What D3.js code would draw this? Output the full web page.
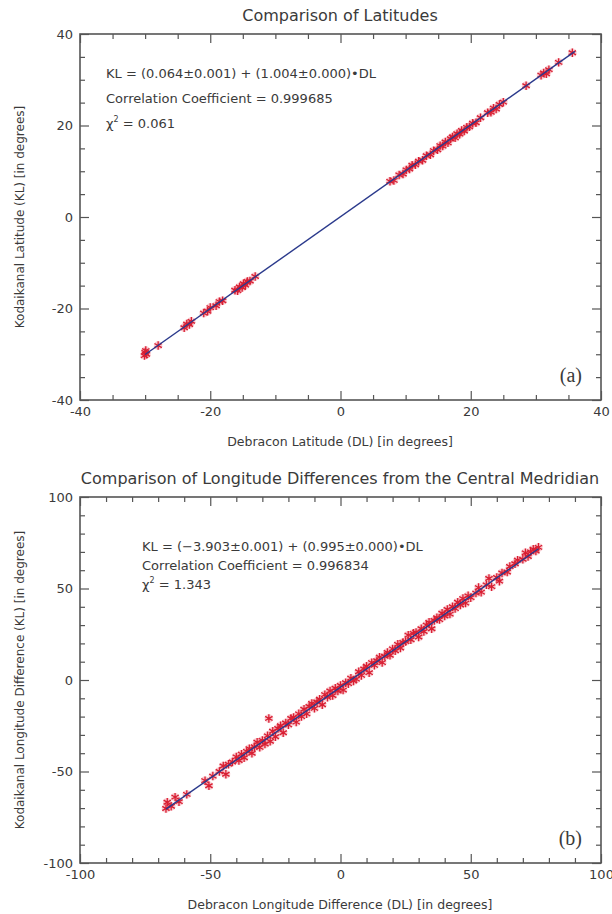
<!DOCTYPE html>
<html>
<head>
<meta charset="utf-8">
<script src="https://cdn.jsdelivr.net/npm/d3@7"></script>
<style>
  body { margin: 0; background: #fff; }
  text { font-family: "DejaVu Sans", sans-serif; fill: #3a3a3a; }
</style>
</head>
<body>
<div id="main"></div>
<script>
// panel (a) : latitudes, DL vs KL
var latDL = [-30.1,-30.0,-29.8,-29.9,-28.0,-24.0,-23.6,-23.2,-22.9,-21.0,-20.4,-20.0,-19.1,-18.6,-18.1,
  -16.2,-15.8,-15.5,-15.1,-14.9,-14.6,-14.3,-13.9,-13.1,
  7.6,8.2,9.0,9.6,10.1,10.6,11.0,11.5,12.0,12.6,13.2,13.8,14.3,14.9,15.3,15.7,16.1,16.5,16.9,17.2,17.6,
  17.9,18.3,18.6,19.0,19.4,19.8,20.3,20.8,21.5,22.6,23.1,23.5,23.9,24.4,25.0,28.5,30.8,31.2,31.6,32.0,33.5,35.6];
var latKL = [-30.3,-29.6,-30.0,-29.2,-28.1,-24.2,-23.4,-23.5,-22.8,-21.0,-20.6,-19.8,-19.4,-18.5,-18.3,
  -16.0,-16.1,-15.3,-15.4,-14.6,-14.9,-14.1,-14.0,-13.0,
  7.8,8.0,9.2,9.4,10.3,10.5,11.3,11.4,12.2,12.4,13.4,13.6,14.5,14.7,15.6,15.5,16.4,16.2,17.1,17.5,17.3,
  18.2,18.1,18.9,18.8,19.6,19.7,20.5,20.6,21.7,22.8,22.9,23.8,23.6,24.6,25.1,28.7,31.0,31.5,31.3,32.2,33.8,35.9];

// panel (b) : longitude differences from the central meridian
var lonDL = [-67,-66.5,-65,-63.5,-62,-59,-52,-50.5,-49,-46.5,-45,-44,-43,-41.5,-40,-39,-38,-37,-36,-35,
  -34,-33,-32,-31,-30,-29,-28,-27.5,-27,-26,-25,-24,-23,-22,-21,-20,-19,-18,-17,-16,-15,-14,-13,-12,
  -11,-10,-9,-8,-7,-6,-5,-4,-3,-2,-1,0,1,2,3,4,5,6,7,8,9,10,11,12,13,14,15,16,17,18,19,20,21,22,23,24,
  25,26,27,28,29,30,31,32,33,34,35,36,37,38,39,40,41,42,43,44,45,46,47,48,49,50,52,53,54,56,57,58,60,
  61,62,64,65,67,68,70,71,72,73,74,75,76];
var lonKL = [-70.2,-66.8,-69.0,-64.0,-66.5,-62.5,-55.0,-57.8,-52.5,-50.0,-47.0,-51.5,-46.0,-44.8,-42.0,
  -44.0,-40.5,-42.5,-39.0,-37.5,-40.0,-36.5,-34.0,-36.8,-33.0,-35.0,-30.5,-21.0,-33.5,-28.0,-31.0,-26.5,
  -25.0,-28.8,-23.5,-24.5,-21.0,-20.5,-23.0,-18.5,-20.0,-16.0,-18.5,-14.5,-12.8,-15.5,-12.0,-10.5,-13.5,
  -8.0,-9.5,-6.0,-8.5,-4.5,-6.0,-3.0,-5.5,-1.5,-2.0,1.0,-0.5,0.5,4.5,2.5,6.0,7.5,4.0,9.5,8.0,10.5,12.5,
  9.5,13.0,15.0,13.5,17.0,16.0,19.5,17.5,20.5,21.0,24.5,22.0,25.5,26.0,23.5,28.0,26.5,30.0,31.5,28.0,
  32.5,34.0,33.0,36.5,35.0,38.5,36.0,40.0,39.0,42.5,41.0,44.5,42.0,46.0,45.0,47.5,50.5,48.0,52.0,55.5,
  51.0,56.0,54.0,58.5,59.0,62.0,63.5,65.5,66.0,69.5,67.5,70.0,71.5,70.5,72.5];

var panels = [
  { title: "Comparison of Latitudes",
    xLabel: "Debracon Latitude (DL) [in degrees]",
    yLabel: "Kodaikanal Latitude (KL) [in degrees]",
    dl: latDL, kl: latKL, domain: [-40, 40], major: 20, minor: 5,
    fit: [0.064, 1.004], fitRange: [-30, 36],
    notes: ["KL = (0.064\u00b10.001) + (1.004\u00b10.000)\u2022DL", "Correlation Coefficient = 0.999685", "0.061"],
    noteX: 106, noteY: [73, 98, 123], tag: "(a)", top: 34 },
  { title: "Comparison of Longitude Differences from the Central Medridian",
    xLabel: "Debracon Longitude Difference (DL) [in degrees]",
    yLabel: "Kodaikanal Longitude Difference (KL) [in degrees]",
    dl: lonDL, kl: lonKL, domain: [-100, 100], major: 50, minor: 10,
    fit: [-3.903, 0.995], fitRange: [-67, 76],
    notes: ["KL = (\u22123.903\u00b10.001) + (0.995\u00b10.000)\u2022DL", "Correlation Coefficient = 0.996834", "1.343"],
    noteX: 142, noteY: [546, 565, 584], tag: "(b)", top: 497 }
];

var dimensions = { left: 80, right: 601, height: 366 };

var svg = d3.select("#main").append("svg")
  .attr("width", 612)
  .attr("height", 914);

panels.forEach(function(p) {
  var x = d3.scaleLinear().domain(p.domain).range([dimensions.left, dimensions.right]);
  var y = d3.scaleLinear().domain(p.domain).range([p.top + dimensions.height, p.top]);
  var bottom = p.top + dimensions.height;
  var g = svg.append("g");

  var majors = d3.range(p.domain[0], p.domain[1] + 0.001, p.major);
  var minors = d3.range(p.domain[0], p.domain[1] + 0.001, p.minor).filter(function(v) { return v % p.major != 0; });

  // ticks point inward on all four sides, like IDL
  function axes(axisFn, pos, scale, labels) {
    g.append("g").attr("transform", pos)
      .call(axisFn(scale).tickValues(minors).tickSize(-5).tickFormat(""));
    g.append("g").attr("transform", pos)
      .call(axisFn(scale).tickValues(majors).tickSize(-9).tickPadding(7)
        .tickFormat(labels ? function(d) { return String(d); } : ""));
  }
  axes(d3.axisBottom, "translate(0," + bottom + ")", x, true);
  axes(d3.axisTop, "translate(0," + p.top + ")", x, false);
  axes(d3.axisLeft, "translate(" + dimensions.left + ",0)", y, true);
  axes(d3.axisRight, "translate(" + dimensions.right + ",0)", y, false);
  g.selectAll(".domain").remove();
  g.selectAll(".tick line").attr("stroke", "#555").attr("stroke-width", 1.2);
  g.selectAll(".tick text").style("font-size", "13px").attr("fill", "#3a3a3a");

  g.append("rect")
    .attr("x", dimensions.left).attr("y", p.top)
    .attr("width", dimensions.right - dimensions.left).attr("height", dimensions.height)
    .attr("fill", "none").attr("stroke", "#555").attr("stroke-width", 1.6);

  // data points
  var pts = p.dl.map(function(d, i) { return [d, p.kl[i]]; });
  var sym = d3.symbol().type(d3.symbolAsterisk).size(50);
  g.append("g").selectAll("path.halo").data(pts).enter().append("path")
    .attr("transform", function(d) { return "translate(" + x(d[0]) + "," + y(d[1]) + ")"; })
    .attr("d", sym).attr("fill", "none").attr("stroke", "#f27f8c").attr("stroke-width", 3.5).attr("opacity", 0.45);
  g.append("g").selectAll("path.pt").data(pts).enter().append("path")
    .attr("transform", function(d) { return "translate(" + x(d[0]) + "," + y(d[1]) + ")"; })
    .attr("d", sym).attr("fill", "none").attr("stroke", "#d81e32").attr("stroke-width", 1.3);

  // fit line
  var fitLine = d3.line().x(function(d) { return x(d); }).y(function(d) { return y(p.fit[0] + p.fit[1] * d); });
  g.append("path").datum(p.fitRange).attr("d", fitLine)
    .attr("fill", "none").attr("stroke", "#2b3a8c").attr("stroke-width", 1.4);

  // texts
  g.append("text").attr("x", 340).attr("y", p.top - 13)
    .attr("text-anchor", "middle").style("font-size", "16px").text(p.title);
  g.append("text").attr("x", 340).attr("y", bottom + 46)
    .attr("text-anchor", "middle").style("font-size", "12.5px").text(p.xLabel);
  g.append("text").attr("transform", "translate(24," + (p.top + dimensions.height / 2) + ") rotate(-90)")
    .attr("text-anchor", "middle").style("font-size", "12px").text(p.yLabel);

  g.append("text").attr("x", p.noteX).attr("y", p.noteY[0] + 5).style("font-size", "13px").text(p.notes[0]);
  g.append("text").attr("x", p.noteX).attr("y", p.noteY[1] + 5).style("font-size", "13px").text(p.notes[1]);
  var chi = g.append("text").attr("x", p.noteX).attr("y", p.noteY[2] + 5).style("font-size", "13px");
  chi.append("tspan").text("\u03c7");
  chi.append("tspan").attr("dy", -6).style("font-size", "8px").text("2");
  chi.append("tspan").attr("dy", 6).text(" = " + p.notes[2]);

  g.append("text").attr("x", 582).attr("y", bottom - 18)
    .attr("text-anchor", "end")
    .style("font-family", "'Liberation Serif', serif").style("font-size", "20px").attr("fill", "#333")
    .text(p.tag);
});
</script>
</body>
</html>
